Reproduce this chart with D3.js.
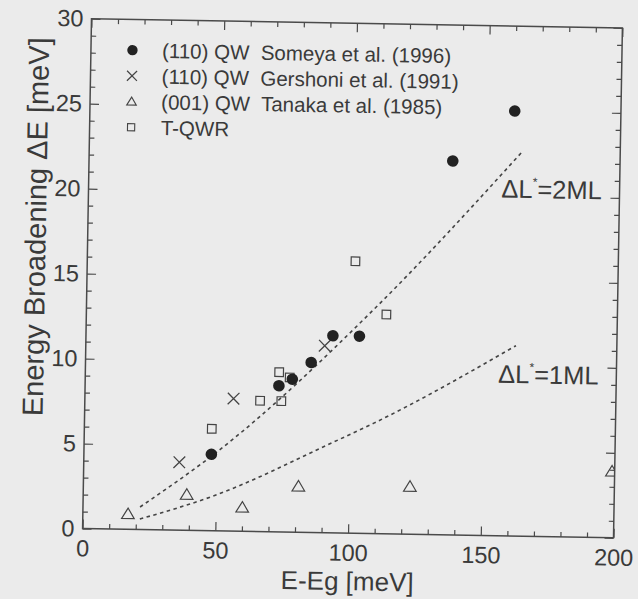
<!DOCTYPE html>
<html>
<head>
<meta charset="utf-8">
<script src="https://cdn.jsdelivr.net/npm/d3@7"></script>
<style>
  html, body { margin: 0; padding: 0; background: #ebebeb; }
  svg { display: block; }
  text { font-family: "Liberation Sans", Arial, Helvetica, sans-serif; fill: #3a3a3a; white-space: pre; }
</style>
</head>
<body>
<svg id="chart" width="638" height="599"></svg>
<script>
// ---- data ----
const someyaX   = [48, 73, 78, 85, 93, 103, 137, 160];
const someyaY   = [4.5, 8.6, 9.0, 10.0, 11.6, 11.6, 22.0, 25.0];
const gershoniX = [36, 56, 90];
const gershoniY = [4.0, 7.8, 11.0];
const tanakaX   = [17, 39, 60, 81, 123, 199];
const tanakaY   = [0.9, 2.1, 1.4, 2.7, 2.8, 3.9];
const tqwrX     = [48, 66, 74, 73, 77, 101, 113];
const tqwrY     = [6.0, 7.7, 7.7, 9.4, 9.1, 16.0, 12.9];
const line2X    = [21.5, 51, 108, 163];
const line2Y    = [1.33, 4.76, 13.15, 22.6];
const line1X    = [21.5, 49, 94, 109, 162];
const line1Y    = [0.62, 2.05, 5.35, 6.5, 11.2];
const xMajor    = [0, 50, 100, 150, 200];
const yMajor    = [0, 5, 10, 15, 20, 25, 30];
const legendLabels = ["(110) QW  Someya et al. (1996)", "(110) QW  Gershoni et al. (1991)", "(001) QW  Tanaka et al. (1985)", "T-QWR"];
const lineLabels = [{x: 155.5, y: 19.9, n: "2ML"}, {x: 155.5, y: 9.0, n: "1ML"}];

// ---- layout ----
const svg = d3.select("#chart");
const M = {left: 87, top: 23.25};
const W = 531, H = 510;
const cx = M.left + W / 2, cy = M.top + H / 2;

const root = svg.append("g").attr("transform", `rotate(1, ${cx}, ${cy})`);
const g = root.append("g").attr("transform", `translate(${M.left},${M.top})`);

const x = d3.scaleLinear().domain([0, 200]).range([0, W]);
const y = d3.scaleLinear().domain([0, 30]).range([H, 0]);

const axisColor = "#4a4a4a";
const xMinor = d3.range(0, 201, 10).filter(v => v % 50 !== 0);
const yMinor = d3.range(0, 31, 1).filter(v => v % 5 !== 0);

function styleAxis(sel) {
  sel.select(".domain").remove();
  sel.selectAll("line").attr("stroke", axisColor).attr("stroke-width", 1.2);
  sel.selectAll("text").attr("fill", "#3a3a3a").style("font-size", "23.5px")
     .style("font-family", '"Liberation Sans", Arial, Helvetica, sans-serif');
}

// bottom
g.append("g").attr("transform", `translate(0,${H})`)
  .call(d3.axisBottom(x).tickValues(xMajor).tickSize(-9).tickPadding(11).tickFormat(d3.format("d")))
  .call(styleAxis);
g.append("g").attr("transform", `translate(0,${H})`)
  .call(d3.axisBottom(x).tickValues(xMinor).tickSize(-5).tickFormat(""))
  .call(styleAxis);
// top
g.append("g")
  .call(d3.axisTop(x).tickValues(xMajor).tickSize(-9).tickFormat(""))
  .call(styleAxis);
g.append("g")
  .call(d3.axisTop(x).tickValues(xMinor).tickSize(-5).tickFormat(""))
  .call(styleAxis);
// left
g.append("g")
  .call(d3.axisLeft(y).tickValues(yMajor).tickSize(-9).tickPadding(8).tickFormat(d3.format("d")))
  .call(styleAxis);
g.append("g")
  .call(d3.axisLeft(y).tickValues(yMinor).tickSize(-5).tickFormat(""))
  .call(styleAxis);
// right
g.append("g").attr("transform", `translate(${W},0)`)
  .call(d3.axisRight(y).tickValues(yMajor).tickSize(-9).tickFormat(""))
  .call(styleAxis);
g.append("g").attr("transform", `translate(${W},0)`)
  .call(d3.axisRight(y).tickValues(yMinor).tickSize(-5).tickFormat(""))
  .call(styleAxis);

// frame
g.append("rect").attr("width", W).attr("height", H)
  .attr("fill", "none").attr("stroke", axisColor).attr("stroke-width", 1.5);

// axis titles
g.append("text").attr("x", W / 2).attr("y", H + 57)
  .attr("text-anchor", "middle").style("font-size", "26px").text("E-Eg [meV]");
g.append("text").attr("transform", `translate(-42,${209}) rotate(-90)`)
  .attr("text-anchor", "middle").style("font-size", "29px").text("Energy Broadening ΔE [meV]");

// clip
g.append("clipPath").attr("id", "plotclip").append("rect").attr("width", W).attr("height", H);
const plot = g.append("g").attr("clip-path", "url(#plotclip)");

// fit lines
const lineGen = d3.line().x(d => x(d[0])).y(d => y(d[1])).curve(d3.curveMonotoneX);
[[line2X, line2Y], [line1X, line1Y]].forEach(([xs, ys]) => {
  plot.append("path").datum(xs.map((v, i) => [v, ys[i]]))
    .attr("d", lineGen).attr("fill", "none")
    .attr("stroke", "#444").attr("stroke-width", 1.6).attr("stroke-dasharray", "3.5,3.5");
});

// marker drawers
const ink = "#222";
function drawSquare(sel, px, py) {
  sel.append("rect").attr("x", px - 4.3).attr("y", py - 4.3).attr("width", 8.6).attr("height", 8.6)
    .attr("fill", "none").attr("stroke", "#444").attr("stroke-width", 1.2);
}
function drawTriangle(sel, px, py) {
  const s = 6;
  sel.append("path").attr("d", `M${px},${py - s}L${px + s * 1.05},${py + s * 0.75}L${px - s * 1.05},${py + s * 0.75}Z`)
    .attr("fill", "none").attr("stroke", "#444").attr("stroke-width", 1.2);
}
function drawCross(sel, px, py) {
  const s = 5.8;
  sel.append("path").attr("d", `M${px - s},${py - s}L${px + s},${py + s}M${px + s},${py - s}L${px - s},${py + s}`)
    .attr("fill", "none").attr("stroke", "#444").attr("stroke-width", 1.3);
}
function drawCircle(sel, px, py) {
  sel.append("circle").attr("cx", px).attr("cy", py).attr("r", 5.8).attr("fill", ink);
}

tanakaX.forEach((v, i) => drawTriangle(plot, x(v), y(tanakaY[i])));
tqwrX.forEach((v, i) => drawSquare(plot, x(v), y(tqwrY[i])));
gershoniX.forEach((v, i) => drawCross(plot, x(v), y(gershoniY[i])));
someyaX.forEach((v, i) => drawCircle(plot, x(v), y(someyaY[i])));

// legend
const legend = g.append("g").attr("transform", "translate(41.5,30.8)");
legendLabels.forEach((lab, i) => {
  const ry = i * 25.7;
  if (i === 2) {
    const s = 4.5;
    legend.append("path").attr("d", `M0,${ry - s}L${s * 1.05},${ry + s * 0.75}L${-s * 1.05},${ry + s * 0.75}Z`)
      .attr("fill", "none").attr("stroke", "#444").attr("stroke-width", 1.2);
  } else if (i === 3) {
    legend.append("rect").attr("x", -3.6).attr("y", ry - 3.6).attr("width", 7.2).attr("height", 7.2)
      .attr("fill", "none").attr("stroke", "#444").attr("stroke-width", 1.1);
  } else if (i === 0) {
    legend.append("circle").attr("cx", 0).attr("cy", ry).attr("r", 5.2).attr("fill", ink);
  } else {
    const s = 5;
    legend.append("path").attr("d", `M${-s},${ry - s}L${s},${ry + s}M${s},${ry - s}L${-s},${ry + s}`)
      .attr("fill", "none").attr("stroke", "#444").attr("stroke-width", 1.2);
  }
  legend.append("text").attr("x", 29.7).attr("y", ry + 7.3)
    .attr("xml:space", "preserve")
    .style("font-size", "20.5px").text(lab);
});

// line labels
lineLabels.forEach(l => {
  const t = g.append("text").attr("x", x(l.x)).attr("y", y(l.y)).style("font-size", "25.5px");
  t.append("tspan").text("ΔL");
  t.append("tspan").attr("dy", -12).style("font-size", "12px").text("*");
  t.append("tspan").attr("dy", 12).text("=" + l.n);
});
</script>
</body>
</html>
